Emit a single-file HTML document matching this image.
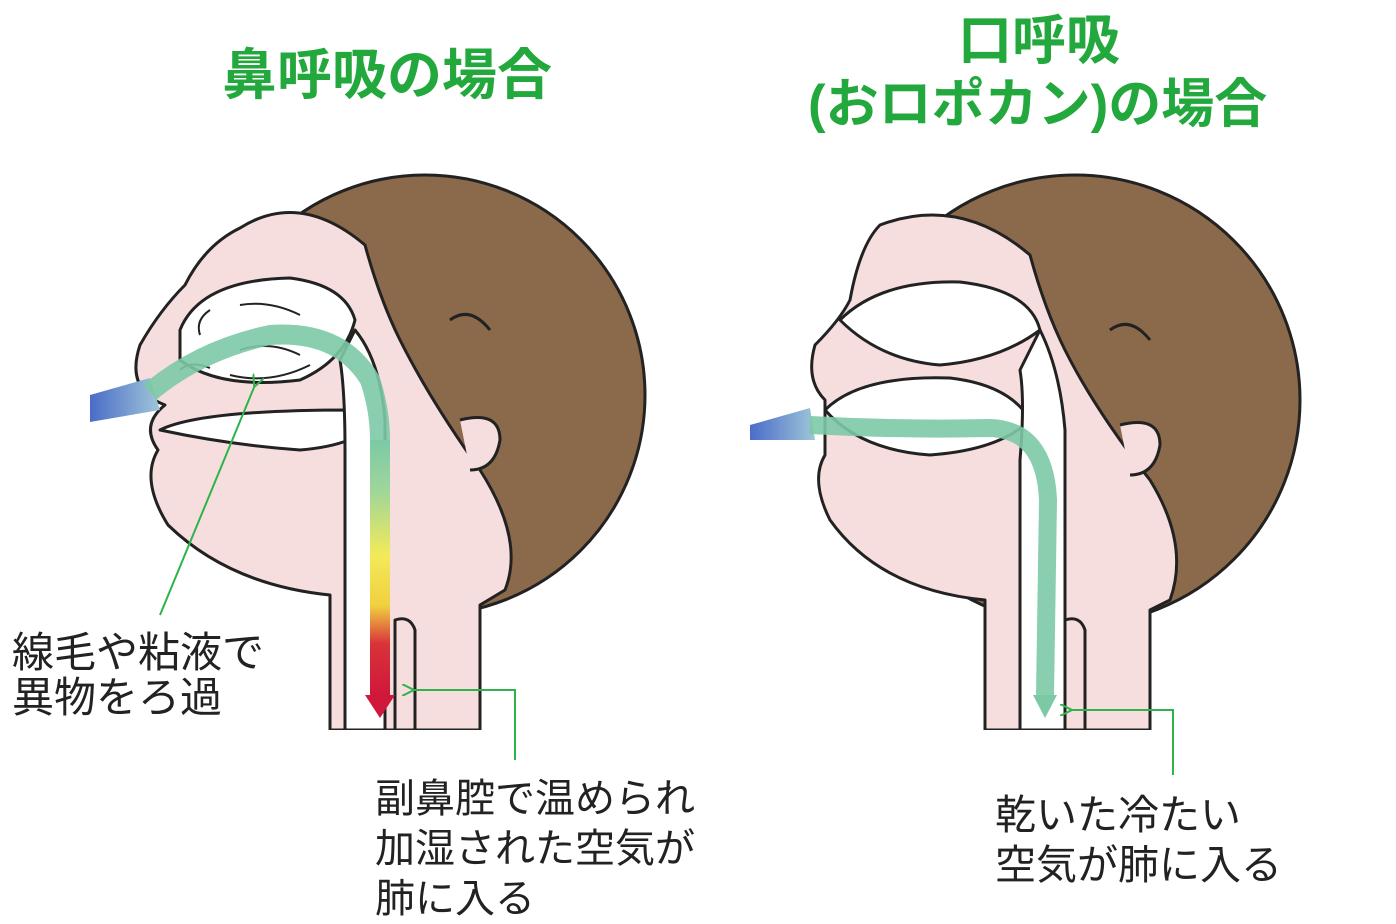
<!DOCTYPE html>
<html><head><meta charset="utf-8"><style>
html,body{margin:0;padding:0;background:#fff;}
body{width:1396px;height:922px;overflow:hidden;position:relative;font-family:"Liberation Sans","Noto Sans CJK JP",sans-serif;}
.t{position:absolute;color:#22a83c;font-weight:bold;white-space:nowrap}
.l{position:absolute;color:#222;white-space:nowrap}
svg{position:absolute;left:0;top:0}
</style></head><body>
<svg width="1396" height="922" viewBox="0 0 1396 922">
<defs>
<linearGradient id="v" x1="0" y1="0" x2="0" y2="1">
<stop offset="0" stop-color="#7cc9a6"/><stop offset="0.2" stop-color="#9fd69a"/><stop offset="0.45" stop-color="#f2ea5a"/><stop offset="0.65" stop-color="#f0d040"/><stop offset="0.8" stop-color="#d8333a"/><stop offset="1" stop-color="#d0183a"/></linearGradient>
<linearGradient id="b" x1="0" y1="0" x2="1" y2="0"><stop offset="0" stop-color="#4a6cc8"/><stop offset="1" stop-color="#9fc6d8"/></linearGradient>
<marker id="g" markerWidth="12" markerHeight="12" refX="2" refY="6" orient="auto-start-reverse" markerUnits="userSpaceOnUse"><path d="M12,0 L0,6 L12,12" fill="none" stroke="#2db34a" stroke-width="2"/></marker>
</defs>
<g stroke="#222" stroke-width="3" stroke-linejoin="round">
<circle cx="425" cy="395" r="220" fill="#8b6a4c"/>
<path d="M240,228 Q300,190 365,245 Q380,300 400,340 Q430,400 480,470 Q525,540 505,590 L480,605 L480,730 L330,730 L330,595 Q230,585 168,525 Q140,480 158,450 Q140,425 165,405 Q125,390 140,345 Q160,310 185,285 Q205,245 240,228 Z" fill="#f7dede"/>
<path d="M450,320 Q470,305 490,330" fill="none"/>
<path d="M460,420 Q500,410 500,440 Q495,470 470,470" fill="#f7dede"/>
<path d="M180,330 Q200,280 290,278 Q345,285 355,320 Q345,360 300,380 Q220,390 180,360 Z" fill="#fff"/>
<path d="M160,430 Q200,410 350,410 L375,420 Q360,445 300,450 Q230,445 160,430 Z" fill="#fff"/>
<path d="M355,330 Q380,360 385,420 L385,730 L345,730 L345,450 Q345,390 340,360 Z" fill="#fff"/>
<path d="M395,620 Q410,615 415,630 L415,730 L395,730 Z" fill="#f7dede"/>
<circle cx="1075" cy="400" r="225" fill="#8b6a4c"/>
<path d="M880,225 Q960,195 1030,255 Q1045,310 1065,350 Q1095,410 1150,480 Q1190,545 1170,600 L1150,610 L1150,730 L985,730 L985,600 Q880,590 830,520 Q810,480 825,455 L825,400 Q805,380 815,345 Q840,320 850,300 Q860,245 880,225 Z" fill="#f7dede"/>
<path d="M1110,330 Q1130,315 1150,340" fill="none"/>
<path d="M1120,425 Q1160,415 1160,445 Q1155,475 1130,475" fill="#f7dede"/>
<path d="M840,320 Q880,280 960,282 Q1030,290 1040,330 Q1000,360 940,365 Q880,360 840,320 Z" fill="#fff"/>
<path d="M825,410 Q860,375 950,378 Q1010,385 1030,420 Q1000,450 930,455 Q860,450 825,410 Z" fill="#fff"/>
<path d="M1040,330 Q1060,370 1065,430 L1065,730 L1020,730 L1020,460 Q1025,400 1020,370 Z" fill="#fff"/>
<path d="M1065,620 Q1080,615 1085,630 L1085,730 L1065,730 Z" fill="#f7dede"/>
</g>
<rect x="300" y="730" width="240" height="20" fill="#fff"/>
<rect x="960" y="730" width="240" height="20" fill="#fff"/>
<g stroke="#222" stroke-width="2" fill="none">
<path d="M240,305 Q270,300 300,315"/><path d="M240,350 Q270,340 300,355"/><path d="M230,375 Q270,385 310,365"/>
<path d="M210,310 Q195,320 200,335"/><path d="M180,370 Q190,360 210,368"/>
</g>
<polygon points="90,395 150,378 160,410 90,422" fill="url(#b)"/>
<path d="M150,392 Q200,350 270,335 Q340,330 370,380 Q380,410 380,440" fill="none" stroke="#7cc9a6" stroke-width="20" opacity="0.9"/>
<rect x="370" y="440" width="20" height="255" fill="url(#v)"/>
<polygon points="365,695 395,695 380,718" fill="#d0183a"/>
<polygon points="750,425 810,408 815,440 750,440" fill="url(#b)"/>
<path d="M810,425 Q900,430 990,428 Q1045,430 1048,500 L1045,695" fill="none" stroke="#7cc9a6" stroke-width="18" opacity="0.9"/>
<polygon points="1033,695 1057,695 1045,718" fill="#7cc9a6"/>
<g stroke="#2db34a" stroke-width="2" fill="none">
<path d="M160,615 L255,385" marker-end="url(#g)"/>
<path d="M515,760 L515,690 L412,690" marker-end="url(#g)"/>
<path d="M1173,775 L1173,710 L1070,710" marker-end="url(#g)"/>
</g>
</svg>
<div class="t" style="left:222px;top:30px;font-size:55px">鼻呼吸の場合</div>
<div class="t" style="left:958px;top:-4px;font-size:54px">口呼吸</div>
<div class="t" style="left:808px;top:62px;font-size:53px">(おロポカン)の場合</div>
<div class="l" style="left:12px;top:630px;font-size:42px;line-height:45px">線毛や粘液で<br>異物をろ過</div>
<div class="l" style="left:375px;top:774px;font-size:40px;line-height:50px">副鼻腔で温められ<br>加湿された空気が<br>肺に入る</div>
<div class="l" style="left:995px;top:790px;font-size:41px;line-height:50px">乾いた冷たい<br>空気が肺に入る</div>
</body></html>
